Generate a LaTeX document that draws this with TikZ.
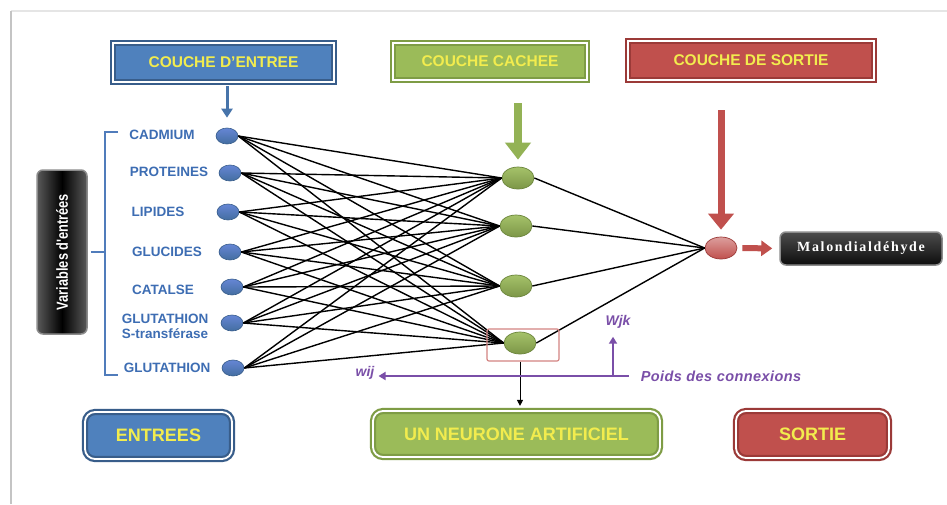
\documentclass[tikz,border=0pt]{standalone}
\usepackage{fontspec}
\setmainfont{Liberation Sans}
\newfontfamily\serifbold{Liberation Serif}
\newfontfamily\narrowsans[FakeStretch=0.8]{Liberation Sans}
\usetikzlibrary{arrows.meta,shapes.geometric}

\definecolor{bfill}{HTML}{4F81BD}
\definecolor{bdark}{HTML}{385D8A}
\definecolor{gfill}{HTML}{9BBB59}
\definecolor{gdark}{HTML}{7E9C45}
\definecolor{rfill}{HTML}{C0504D}
\definecolor{rdark}{HTML}{9B3A38}
\definecolor{ylw}{HTML}{F2EC4E}
\definecolor{lblue}{HTML}{3D6DB3}
\definecolor{purp}{HTML}{7A4FA8}
\definecolor{framegray}{HTML}{C4C4C4}

\tikzset{
  layer/.style n args={2}{draw=#1, fill=#2, double=white, double distance=1.8pt,
    line width=2.2pt, text=ylw, inner sep=0pt,
    font=\bfseries\fontsize{15.5}{16}\selectfont},
  roundlayer/.style n args={2}{layer={#1}{#2}, rounded corners=10pt,
    font=\bfseries\fontsize{18}{18}\selectfont},
  varlabel/.style={text=lblue, inner sep=0pt, align=center,
    font=\bfseries\fontsize{13.5}{15}\selectfont},
  inneuron/.style={ellipse, minimum width=22pt, minimum height=16pt, inner sep=0pt,
    top color=blue!20!bfill!80!white, bottom color=bfill!85!black, draw=bdark, line width=0.6pt},
  hidneuron/.style={ellipse, minimum width=32pt, minimum height=22pt, inner sep=0pt,
    top color=gfill!90!white, bottom color=gfill!80!black, draw=gdark!85!black, line width=0.7pt},
  outneuron/.style={ellipse, minimum width=32pt, minimum height=22pt, inner sep=0pt,
    top color=rfill!55!white, bottom color=rfill, draw=rdark, line width=0.7pt},
  link/.style={black, line width=1.4pt},
  weightlbl/.style={text=purp, inner sep=1pt, font=\bfseries\itshape\fontsize{14}{14}\selectfont},
  pline/.style={purp, line width=2pt, -{Triangle[width=8pt,length=7pt]}},
  darkbox/.style={rounded corners=6pt, draw=black!45, line width=1.5pt, inner sep=0pt},
}

\begin{document}
\begin{tikzpicture}[x=1pt,y=-1pt]
\useasboundingbox (0,0) rectangle (947,504);

% page frame
\fill[white] (0,0) rectangle (947,504);
\draw[black!10, line width=2pt] (11,11) -- (947,11);
\draw[framegray, line width=2pt] (11,504) -- (11,11);

% layer titles
\node[layer={bdark}{bfill}, minimum width=221pt, minimum height=39pt] (tin) at (223.5,62.5) {COUCHE D'ENTREE};
\node[layer={gdark}{gfill}, minimum width=194pt, minimum height=37pt] (thid) at (490,61.5) {COUCHE CACHEE};
\node[layer={rdark}{rfill}, minimum width=246pt, minimum height=39pt] (tout) at (751,60.5) {COUCHE DE SORTIE};

% input variables
\node[inneuron] (i1) at (227,136) {};
\node[inneuron] (i2) at (230,173) {};
\node[inneuron] (i3) at (228,212) {};
\node[inneuron] (i4) at (230,252) {};
\node[inneuron] (i5) at (232,287) {};
\node[inneuron] (i6) at (232,323) {};
\node[inneuron] (i7) at (233,368) {};

\node[varlabel] (l1) at (162,135) {CADMIUM};
\node[varlabel] (l2) at (169,172) {PROTEINES};
\node[varlabel] (l3) at (158,212) {LIPIDES};
\node[varlabel] (l4) at (167,252) {GLUCIDES};
\node[varlabel] (l5) at (163,290) {CATALSE};
\node[varlabel] (l6) at (165,326) {GLUTATHION\\S-transférase};
\node[varlabel] (l7) at (167,368) {GLUTATHION};

% bracket grouping the inputs
\node[darkbox, left color=black!65, right color=black!65, middle color=black,
      minimum width=50pt, minimum height=164pt] (vars) at (62,252) {};
\node[rotate=90, text=white, inner sep=0pt, font=\narrowsans\bfseries\fontsize{16}{16}\selectfont] (varstxt) at (vars.center) {Variables d'entrées};
\draw[lblue!90!white, line width=2pt] (118,132) -- (105,132) -- (105,375) -- (118,375);
\draw[lblue!90!white, line width=2pt] ([xshift=3pt]vars.east) -- (105,252);

% hidden and output neurons
\node[hidneuron] (h1) at (518,178) {};
\node[hidneuron] (h2) at (516,226) {};
\node[hidneuron] (h3) at (516,286) {};
\node[hidneuron] (h4) at (520,343) {};
\node[outneuron] (o) at (721,248) {};

\node[darkbox, top color=black!70, bottom color=black!95, minimum width=162pt, minimum height=33pt,
      text=white, font=\serifbold\bfseries\fontsize{14}{14}\selectfont\addfontfeature{LetterSpace=12}]
      (mda) at (861,248.5) {Malondialdéhyde};

% connections
\foreach \i in {1,...,7}
  \foreach \j in {1,...,4}
    \draw[link] (i\i.east) -- (h\j.west);
\foreach \j in {1,...,4}
  \draw[link] (h\j.east) -- (o.west);

% layer arrows
\draw[bfill!90!black, line width=3pt, -{Triangle[width=11pt,length=9pt]}, shorten >=10pt, shorten <=3pt]
  (i1 |- tin.south) -- (i1.north);
\draw[gfill!95!black, line width=8pt, -{Triangle[width=25pt,length=17pt]}, shorten >=7pt, shorten <=22pt]
  (h1 |- thid.south) -- (h1.north);
\draw[rfill, line width=7pt, -{Triangle[width=25pt,length=16pt]}, shorten >=7pt, shorten <=29pt]
  (o |- tout.south) -- (o.north);
\draw[rfill, line width=6pt, -{Triangle[width=15pt,length=11pt]}, shorten <=5pt, shorten >=7pt]
  (o.east) -- (mda.west);

% highlighted neuron
\node[draw=rfill!70!white, line width=1.2pt, rounded corners=2pt, minimum width=72pt, minimum height=32pt] (focus) at (523,345) {};

% bottom legend
\node[roundlayer={bdark}{bfill}, minimum width=147pt, minimum height=47pt] (bin) at (158.5,435.5) {ENTREES};
\node[roundlayer={gdark}{gfill}, minimum width=287pt, minimum height=46pt] (bneu) at (516.5,434) {UN NEURONE ARTIFICIEL};
\node[roundlayer={rdark}{rfill}, minimum width=153pt, minimum height=47pt] (bout) at (812.5,434.5) {SORTIE};

\draw[black, line width=1pt, -{Triangle[width=6pt,length=6pt]}, shorten >=4pt]
  (h4 |- focus.south) -- (h4 |- bneu.north);

% connection weights
\node[weightlbl] (wij) at (365,373) {wij};
\node[weightlbl] (wjk) at (618,322) {Wjk};
\node[text=purp, inner sep=0pt, font=\bfseries\itshape\fontsize{14.5}{15}\selectfont\addfontfeature{LetterSpace=3}]
  (poids) at (721,376) {Poids des connexions};
\coordinate (wbase) at (613,376);
\draw[pline, shorten >=3pt] ([xshift=-12pt]poids.west) -- (wij.east |- poids.west);
\draw[pline, shorten >=7pt] (wbase) -- (wbase |- wjk.south);
\end{tikzpicture}
\end{document}
